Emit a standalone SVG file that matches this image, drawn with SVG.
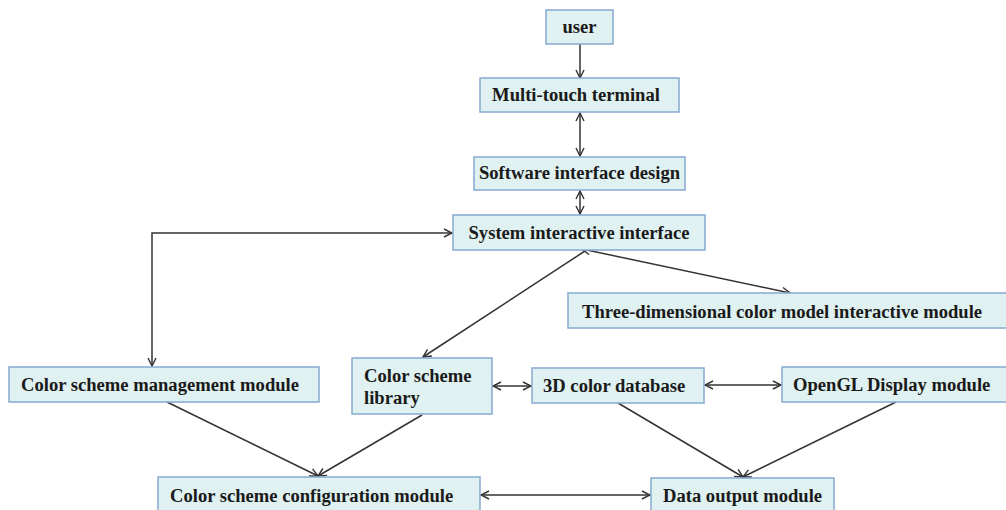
<svg xmlns="http://www.w3.org/2000/svg" width="1006" height="510" viewBox="0 0 1006 510">
  <defs>
    <marker id="arrow" viewBox="0 0 10 10" refX="9" refY="5" markerWidth="10" markerHeight="10" markerUnits="userSpaceOnUse" orient="auto-start-reverse">
      <path d="M1,1 L9,5 L1,9" fill="none" stroke="#333" stroke-width="1.4"/>
    </marker>
    <style>
      .box { fill: #dff1f0; stroke: #86a9d0; stroke-width: 1.5; }
      .lbl { font-family: "Liberation Serif", "Times New Roman", serif; font-weight: bold; font-size: 18.6px; fill: #1a1a1a; }
      .con { fill: none; stroke: #333; stroke-width: 1.5; }
      .one { marker-end: url(#arrow); }
      .two { marker-start: url(#arrow); marker-end: url(#arrow); }
    </style>
  </defs>
  <rect width="1006" height="510" fill="#ffffff"/>

  <g id="connectors">
    <line class="con one" x1="580" y1="44" x2="580" y2="78"/>
    <line class="con two" x1="580" y1="113" x2="580" y2="156"/>
    <line class="con two" x1="580" y1="191" x2="580" y2="214"/>
    <polyline class="con two" points="152,366 152,233 452,233"/>
    <line class="con one" x1="585" y1="251" x2="423" y2="357"/>
    <line class="con two" x1="582" y1="249" x2="790" y2="293"/>
    <line class="con one" x1="167" y1="402" x2="318" y2="476"/>
    <line class="con one" x1="422" y1="415" x2="318" y2="476"/>
    <line class="con two" x1="493" y1="386" x2="531" y2="386"/>
    <line class="con two" x1="705" y1="385" x2="781" y2="385"/>
    <line class="con one" x1="618" y1="403" x2="743" y2="477"/>
    <line class="con one" x1="896" y1="402" x2="743" y2="477"/>
    <line class="con two" x1="481" y1="495" x2="650" y2="495"/>
  </g>

  <g id="user">
    <rect class="box" x="546" y="10" width="67" height="34"/>
    <text class="lbl" x="579.5" y="33" text-anchor="middle">user</text>
  </g>
  <g id="multi-touch-terminal">
    <rect class="box" x="480" y="78" width="199" height="34"/>
    <text class="lbl" x="576" y="101" text-anchor="middle">Multi-touch terminal</text>
  </g>
  <g id="software-interface-design">
    <rect class="box" x="474" y="157" width="211" height="33"/>
    <text class="lbl" x="579.5" y="179" text-anchor="middle">Software interface design</text>
  </g>
  <g id="system-interactive-interface">
    <rect class="box" x="453" y="215" width="252" height="35"/>
    <text class="lbl" x="579" y="239" text-anchor="middle">System interactive interface</text>
  </g>
  <g id="three-dimensional-module">
    <rect class="box" x="568" y="293" width="445" height="35"/>
    <text class="lbl" x="582" y="318">Three-dimensional color model interactive module</text>
  </g>
  <g id="color-scheme-management">
    <rect class="box" x="9" y="367" width="310" height="35"/>
    <text class="lbl" x="21" y="391">Color scheme management module</text>
  </g>
  <g id="color-scheme-library">
    <rect class="box" x="352" y="358" width="140" height="56"/>
    <text class="lbl" x="364" y="382">Color scheme</text>
    <text class="lbl" x="364" y="404">library</text>
  </g>
  <g id="color-database-3d">
    <rect class="box" x="532" y="368" width="172" height="35"/>
    <text class="lbl" x="543" y="392">3D color database</text>
  </g>
  <g id="opengl-display">
    <rect class="box" x="782" y="367" width="231" height="35"/>
    <text class="lbl" x="793" y="391">OpenGL Display module</text>
  </g>
  <g id="color-scheme-configuration">
    <rect class="box" x="158" y="477" width="322" height="40"/>
    <text class="lbl" x="170" y="502">Color scheme configuration module</text>
  </g>
  <g id="data-output">
    <rect class="box" x="651" y="478" width="183" height="40"/>
    <text class="lbl" x="663" y="502">Data output module</text>
  </g>
</svg>
